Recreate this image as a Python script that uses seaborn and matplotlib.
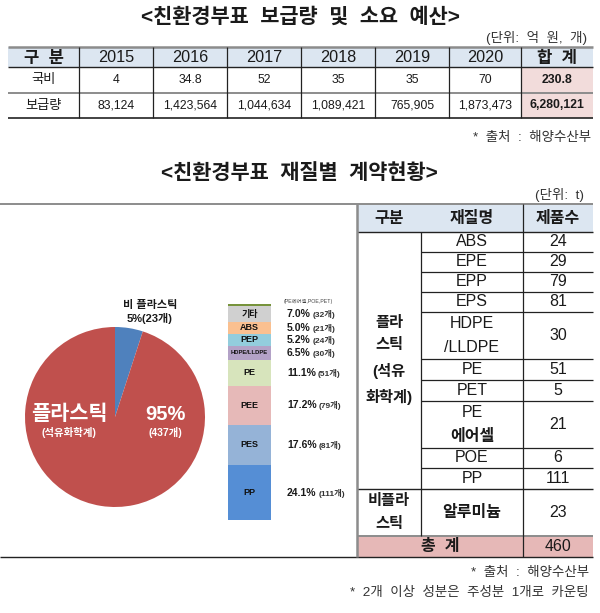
import matplotlib
matplotlib.use("Agg")
import matplotlib.pyplot as plt
import seaborn as sns

# data
years = ["2015", "2016", "2017", "2018", "2019", "2020"]
budget = ["4", "34.8", "52", "35", "35", "70"]
supply = ["83,124", "1,423,564", "1,044,634", "1,089,421", "765,905", "1,873,473"]
budget_total = "230.8"
supply_total = "6,280,121"

pie_labels = ["비 플라스틱", "플라스틱"]
pie_counts = [23, 437]
pie_colors = ["#4F81BD", "#C0504D"]

# bottom to top
stack_names = ["PP", "PES", "PEE", "PE", "HDPE/LLDPE", "PEP", "ABS", "기타", ""]
stack_pct = [24.1, 17.6, 17.2, 11.1, 6.5, 5.2, 5.0, 7.0, 1.0]
stack_counts = ["(111개)", "(81개)", "(79개)", "(51개)", "(30개)", "(24개)", "(21개)", "(32개)", ""]
stack_colors = ["#558ED5", "#95B3D7", "#E6B9B8", "#D7E4BC", "#B3A2C7",
                "#93CDDD", "#FAC090", "#D0D0D0", "#77933C"]

materials = ["ABS", "EPE", "EPP", "EPS", "HDPE\n/LLDPE", "PE", "PET", "PE\n에어셀", "POE", "PP", "알루미늄"]
material_counts = ["24", "29", "79", "81", "30", "51", "5", "21", "6", "111", "23"]

# layout, in pixels of the 600x613 picture
COLS_TOP = [8, 79, 153, 227, 301, 375, 449, 521, 593]
ROWS_TOP = [47, 67, 93, 118]
COLS_MAT = [357, 421, 523, 593]
ROWS_MAT = [204, 232, 252, 272, 292, 312, 359, 380, 401, 448, 468, 489, 536, 557]

sns.set_theme(style="white")
plt.rcParams["font.family"] = ["Liberation Sans", "Noto Sans CJK KR"]
DARK = "#222222"
GREY = "#8C8C8C"

fig = plt.figure(figsize=(6, 6.13), dpi=100)

# tables and titles share one overlay in pixel units
ax = fig.add_axes([0, 0, 1, 1], zorder=5)
ax.set_xlim(0, 600)
ax.set_ylim(613, 0)
ax.axis("off")
ax.patch.set_alpha(0)


def mid(a, b):
    return (a + b) / 2


def fill(x0, x1, y0, y1, color):
    ax.fill_between([x0, x1], y0, y1, color=color, lw=0, zorder=1)


def put(x, y, s, size=9, **kw):
    kw.setdefault("ha", "center")
    kw.setdefault("va", "center")
    kw.setdefault("color", "#1A1A1A")
    return ax.text(x, y, s, fontsize=size, zorder=4, **kw)


# titles
put(300, 17, "<친환경부표  보급량  및  소요  예산>", 15, fontweight="bold")
put(299, 173, "<친환경부표  재질별  계약현황>", 15, fontweight="bold")
put(587, 38, "(단위:  억  원,  개)", 9.7, ha="right", color="#333333")
put(584, 195, "(단위:  t)", 9.7, ha="right", color="#333333")
put(591, 138, "*  출처  :  해양수산부", 9.7, ha="right", color="#333333")
put(589, 573, "*  출처  :  해양수산부", 9.7, ha="right", color="#333333")
put(589, 593, "*  2개  이상  성분은  주성분  1개로  카운팅", 9.7, ha="right", color="#333333")

# first table
fill(COLS_TOP[0], COLS_TOP[-1], ROWS_TOP[0], ROWS_TOP[1], "#DCE6F1")
fill(COLS_TOP[-2], COLS_TOP[-1], ROWS_TOP[1], ROWS_TOP[3], "#F2DCDB")
header = ["구  분"] + years + ["합  계"]
row1 = ["국비"] + budget + [budget_total]
row2 = ["보급량"] + supply + [supply_total]
for i in range(len(header)):
    xc = mid(COLS_TOP[i], COLS_TOP[i + 1])
    bold_head = i in (0, len(header) - 1)
    put(xc, mid(ROWS_TOP[0], ROWS_TOP[1]) + (1.5 if bold_head else 0), header[i],
        12 if bold_head else 11.7, fontweight="bold" if bold_head else "normal")
    last = i == len(header) - 1
    for r, row in enumerate((row1, row2)):
        put(xc, mid(ROWS_TOP[r + 1], ROWS_TOP[r + 2]), row[i], 9.5 if i == 0 else 8.8,
            fontweight="bold" if last else "normal")
ax.hlines(ROWS_TOP[0], COLS_TOP[0], COLS_TOP[-1], color=GREY, lw=1.8, zorder=3)
ax.hlines(ROWS_TOP[1], COLS_TOP[0], COLS_TOP[-1], color=DARK, lw=1, zorder=3)
ax.hlines(ROWS_TOP[2], COLS_TOP[0], COLS_TOP[-1], color=GREY, lw=1.4, zorder=3)
ax.hlines(ROWS_TOP[3], COLS_TOP[0], COLS_TOP[-1], color=DARK, lw=1.2, zorder=3)
ax.vlines(COLS_TOP[1:-1], ROWS_TOP[0], ROWS_TOP[-1], color=DARK, lw=0.9, zorder=3)

# second table
fill(COLS_MAT[0], COLS_MAT[-1], ROWS_MAT[0], ROWS_MAT[1], "#DCE6F1")
fill(COLS_MAT[0], COLS_MAT[-1], ROWS_MAT[-2], ROWS_MAT[-1], "#E6B8B7")
for c, s in enumerate(["구분", "재질명", "제품수"]):
    put(mid(COLS_MAT[c], COLS_MAT[c + 1]), mid(ROWS_MAT[0], ROWS_MAT[1]), s, 11.5, fontweight="bold")
for i, (m, n) in enumerate(zip(materials, material_counts)):
    yc = mid(ROWS_MAT[i + 1], ROWS_MAT[i + 2])
    lines = m.split("\n")
    for j, line in enumerate(lines):
        # Korean is set heavier than the Latin names in this table
        put(mid(COLS_MAT[1], COLS_MAT[2]), yc + (j - (len(lines) - 1) / 2) * 24, line, 11.5,
            fontweight="normal" if line.isascii() else "bold")
    put(mid(COLS_MAT[2], COLS_MAT[3]), yc, n, 11.5)
put(mid(COLS_MAT[0], COLS_MAT[1]), mid(ROWS_MAT[1], ROWS_MAT[11]), "플라\n스틱\n(석유\n화학계)",
    11, fontweight="bold", linespacing=1.8)
put(mid(COLS_MAT[0], COLS_MAT[1]), mid(ROWS_MAT[11], ROWS_MAT[12]), "비플라\n스틱",
    11, fontweight="bold", linespacing=1.8)
put(mid(COLS_MAT[0], COLS_MAT[2]), mid(ROWS_MAT[12], ROWS_MAT[13]), "총  계", 11.5, fontweight="bold")
put(mid(COLS_MAT[2], COLS_MAT[3]), mid(ROWS_MAT[12], ROWS_MAT[13]), "460", 11.5)

ax.hlines(ROWS_MAT[0], 0, COLS_MAT[-1], color=GREY, lw=1.4, zorder=3)
ax.hlines(ROWS_MAT[1], COLS_MAT[0], COLS_MAT[-1], color=DARK, lw=1, zorder=3)
ax.hlines(ROWS_MAT[2:11], COLS_MAT[1], COLS_MAT[-1], color=DARK, lw=0.9, zorder=3)
ax.hlines(ROWS_MAT[11], COLS_MAT[0], COLS_MAT[-1], color=DARK, lw=1, zorder=3)
ax.hlines(ROWS_MAT[12], COLS_MAT[0], COLS_MAT[-1], color=GREY, lw=1.4, zorder=3)
ax.hlines(ROWS_MAT[13], 0, COLS_MAT[-1], color=DARK, lw=1, zorder=3)
ax.vlines(COLS_MAT[0], ROWS_MAT[0], ROWS_MAT[-1], color=GREY, lw=1.8, zorder=3)
ax.vlines(COLS_MAT[1], ROWS_MAT[1], ROWS_MAT[12], color=DARK, lw=0.9, zorder=3)
ax.vlines(COLS_MAT[2], ROWS_MAT[0], ROWS_MAT[13], color=DARK, lw=0.9, zorder=3)

# pie
ax_pie = fig.add_axes([25 / 600, 1 - 507 / 613, 180 / 600, 180 / 613])
ax_pie.pie(pie_counts, colors=pie_colors, startangle=90, counterclock=False, radius=1,
           wedgeprops={"linewidth": 0})
ax_pie.set_xlim(-1, 1)
ax_pie.set_ylim(-1, 1)
put(150, 312, f"{pie_labels[0]}\n5%({pie_counts[0]}개)", 8, fontweight="bold", linespacing=1.25)
put(69, 414, pie_labels[1], 15, fontweight="bold", color="white")
put(69, 432, "(석유화학계)", 7.5, fontweight="bold", color="white")
put(165, 414, "95%", 14.5, fontweight="bold", color="white")
put(165, 432, f"({pie_counts[1]}개)", 7.5, fontweight="bold", color="white")

# stacked bar
ax_bar = fig.add_axes([228 / 600, 1 - 520 / 613, 43 / 600, 216 / 613])
bottom = 0
for name, pct, cnt, col in zip(stack_names, stack_pct, stack_counts, stack_colors):
    sns.barplot(x=["재질"], y=[pct], bottom=bottom, color=col, saturation=1, width=1,
                linewidth=0, ax=ax_bar)
    yc = bottom + pct / 2
    if name:
        ax_bar.text(0, yc, name, ha="center", va="center", fontsize=4.2 if len(name) > 4 else 6.5,
                    fontweight="bold", color="#111111")
        t = ax_bar.annotate(f"{pct}%", xy=(1, yc), xycoords=ax_bar.get_yaxis_transform(),
                            xytext=(11.5, 0), textcoords="offset points", va="center",
                            fontsize=7.5, fontweight="bold", color="#1A1A1A")
        ax_bar.annotate(cnt, xy=(1, 0), xycoords=t, xytext=(1.5, 0), textcoords="offset points",
                        va="bottom", fontsize=6, fontweight="bold", color="#333333")
    bottom += pct
ax_bar.set_xlim(-0.5, 0.5)
ax_bar.set_ylim(0, bottom)
ax_bar.axis("off")
put(308, 302, "(PE에어셀,POE,PET)", 3.8, color="#444444")

fig.savefig("out.png", dpi=100)
